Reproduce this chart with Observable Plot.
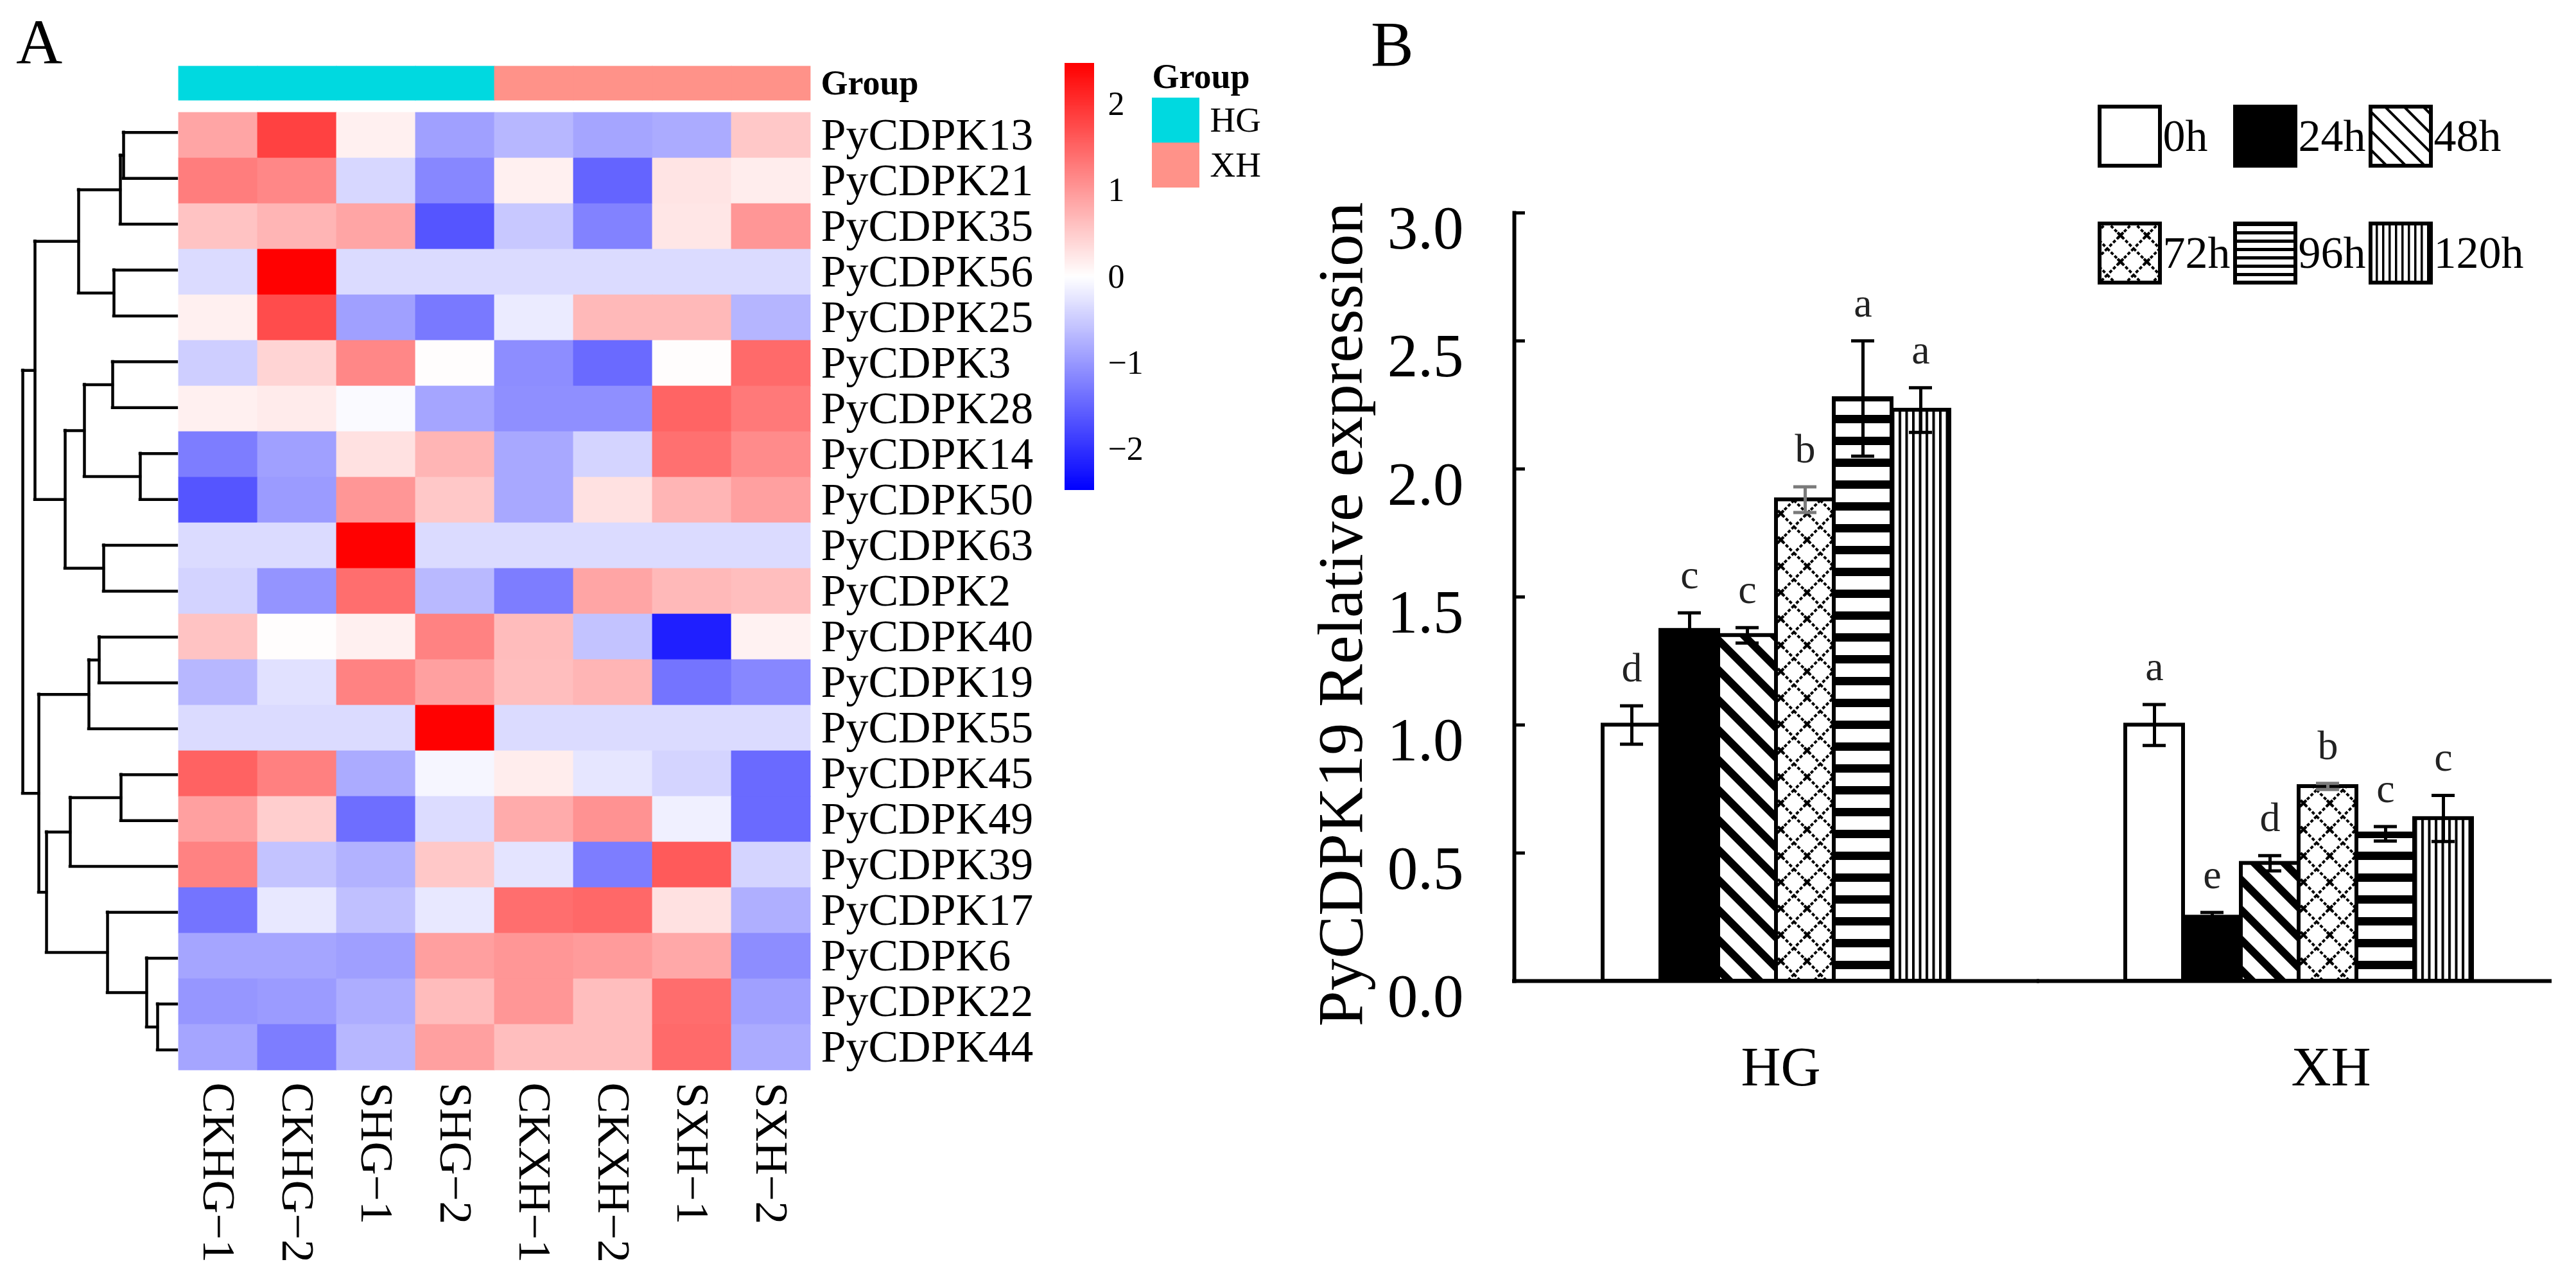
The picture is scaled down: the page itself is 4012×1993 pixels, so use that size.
<!DOCTYPE html>
<html><head><meta charset="utf-8">
<script src="https://cdn.jsdelivr.net/npm/d3@7"></script>
<script src="https://cdn.jsdelivr.net/npm/@observablehq/plot@0.6"></script>
<style>
body{margin:0;background:#fff;}
#root{position:relative;width:4012px;height:1993px;background:#fff;overflow:hidden;font-family:"Liberation Serif","Times New Roman",serif;color:#000;}
.plabel{position:absolute;font-size:100px;line-height:1;}
</style></head><body>
<svg width="0" height="0" style="position:absolute;left:0;top:0">
<defs>
 <pattern id="p48" patternUnits="userSpaceOnUse" width="33" height="33" patternTransform="rotate(-45)"><rect width="33" height="33" fill="#fff"/><rect width="12" height="33" fill="#000"/></pattern>
 <pattern id="p72" patternUnits="userSpaceOnUse" width="41" height="41"><rect width="41" height="41" fill="#fff"/><path d="M0,0L41,41M41,0L0,41" stroke="#000" stroke-width="4" stroke-dasharray="5 3"/><path d="M16,16L25,25M25,16L16,25" stroke="#000" stroke-width="4"/></pattern>
 <pattern id="p96" patternUnits="userSpaceOnUse" width="10" height="34"><rect width="10" height="34" fill="#fff"/><rect width="10" height="13" fill="#000"/></pattern>
 <pattern id="p120" patternUnits="userSpaceOnUse" width="10.5" height="10"><rect width="10.5" height="10" fill="#fff"/><rect width="4" height="10" fill="#000"/></pattern>
 <pattern id="l48" patternUnits="userSpaceOnUse" width="21" height="21" patternTransform="rotate(-45)"><rect width="21" height="21" fill="#fff"/><rect width="4" height="21" fill="#000"/></pattern>
 <pattern id="l72" patternUnits="userSpaceOnUse" width="41" height="41"><rect width="41" height="41" fill="#fff"/><path d="M0,0L41,41M41,0L0,41" stroke="#000" stroke-width="4" stroke-dasharray="5 3"/><path d="M16,16L25,25M25,16L16,25" stroke="#000" stroke-width="4"/></pattern>
 <pattern id="l96" patternUnits="userSpaceOnUse" width="10" height="13"><rect width="10" height="13" fill="#fff"/><rect width="10" height="5" fill="#000"/></pattern>
 <pattern id="l120" patternUnits="userSpaceOnUse" width="10" height="10"><rect width="10" height="10" fill="#fff"/><rect width="3.5" height="10" fill="#000"/></pattern>
</defs></svg>
<div id="root"></div>
<script>
const FONT = '"Liberation Serif","Times New Roman",serif';

// ---------- Panel A data ----------
const genes = ["PyCDPK13","PyCDPK21","PyCDPK35","PyCDPK56","PyCDPK25","PyCDPK3","PyCDPK28","PyCDPK14","PyCDPK50","PyCDPK63","PyCDPK2","PyCDPK40","PyCDPK19","PyCDPK55","PyCDPK45","PyCDPK49","PyCDPK39","PyCDPK17","PyCDPK6","PyCDPK22","PyCDPK44"];
const samples = ["CKHG−1","CKHG−2","SHG−1","SHG−2","CKXH−1","CKXH−2","SXH−1","SXH−2"];
const sampleGroup = ["HG","HG","HG","HG","XH","XH","XH","XH"];
const groupNames = ["HG","XH"];
const groupColors = ["#00D9E0","#FF9289"];
const expr = [
 [0.87, 1.84, 0.15, -0.92, -0.70, -0.87, -0.82, 0.53],
 [1.26, 1.16, -0.39, -1.16, 0.15, -1.50, 0.26, 0.17],
 [0.58, 0.72, 0.87, -1.65, -0.53, -1.21, 0.24, 1.02],
 [-0.35, 2.47, -0.35, -0.35, -0.35, -0.35, -0.35, -0.35],
 [0.15, 1.74, -0.92, -1.30, -0.19, 0.68, 0.68, -0.72],
 [-0.48, 0.42, 1.16, 0.02, -1.11, -1.45, 0.02, 1.45],
 [0.15, 0.19, -0.05, -0.87, -1.09, -1.09, 1.50, 1.30],
 [-1.26, -0.92, 0.29, 0.72, -0.84, -0.42, 1.39, 1.13],
 [-1.65, -0.97, 1.02, 0.53, -0.84, 0.29, 0.72, 0.92],
 [-0.35, -0.35, 2.47, -0.35, -0.35, -0.35, -0.35, -0.35],
 [-0.43, -1.04, 1.41, -0.68, -1.26, 0.87, 0.68, 0.63],
 [0.58, 0.02, 0.15, 1.21, 0.65, -0.58, -2.17, 0.13],
 [-0.70, -0.29, 1.21, 0.92, 0.63, 0.72, -1.35, -1.16],
 [-0.35, -0.35, -0.35, 2.47, -0.35, -0.35, -0.35, -0.35],
 [1.52, 1.23, -0.82, -0.09, 0.17, -0.24, -0.42, -1.45],
 [0.92, 0.48, -1.41, -0.34, 0.82, 1.06, -0.15, -1.45],
 [1.21, -0.58, -0.75, 0.53, -0.26, -1.26, 1.60, -0.42],
 [-1.35, -0.22, -0.61, -0.22, 1.41, 1.47, 0.29, -0.78],
 [-0.87, -0.87, -0.93, 0.93, 1.02, 0.97, 0.84, -1.11],
 [-1.02, -0.97, -0.80, 0.65, 1.02, 0.63, 1.42, -0.92],
 [-0.87, -1.26, -0.70, 0.92, 0.63, 0.63, 1.45, -0.82]
];
const colorLimit = 2.475;
const legendTicks = [-2, -1, 0, 1, 2];
// dendrogram merges: [left, right, height]; merge i creates node "n"+(i+1)
const dendroMerges = [
 ["PyCDPK13","PyCDPK21",0.83],
 ["n1","PyCDPK35",0.88],
 ["PyCDPK56","PyCDPK25",0.98],
 ["n2","n3",1.53],
 ["PyCDPK3","PyCDPK28",1.00],
 ["PyCDPK14","PyCDPK50",0.57],
 ["n5","n6",1.44],
 ["PyCDPK63","PyCDPK2",1.14],
 ["n7","n8",1.74],
 ["n4","n9",2.21],
 ["PyCDPK40","PyCDPK19",1.21],
 ["n11","PyCDPK55",1.37],
 ["PyCDPK45","PyCDPK49",0.87],
 ["n13","PyCDPK39",1.66],
 ["PyCDPK22","PyCDPK44",0.30],
 ["PyCDPK6","n15",0.47],
 ["PyCDPK17","n16",1.08],
 ["n14","n17",2.03],
 ["n12","n18",2.15],
 ["n10","n19",2.40]
];

// ---------- Panel B data ----------
const groups = ["HG","XH"];
const times = ["0h","24h","48h","72h","96h","120h"];
const meanHG = [1.00, 1.37, 1.35, 1.88, 2.275, 2.23];
const errHG  = [0.075, 0.068, 0.03, 0.05, 0.225, 0.087];
const letHG  = ["d","c","c","b","a","a"];
const meanXH = [1.00, 0.25, 0.46, 0.76, 0.575, 0.635];
const errXH  = [0.08, 0.018, 0.03, 0.012, 0.028, 0.09];
const letXH  = ["a","e","d","b","c","c"];
const yTicks = [0, 0.5, 1, 1.5, 2, 2.5, 3];
const yTitle = "PyCDPK19 Relative expression";
const barFills = ["#ffffff","#000000","url(#p48)","url(#p72)","url(#p96)","url(#p120)"];
const legendFills = ["#ffffff","#000000","url(#l48)","url(#l72)","url(#l96)","url(#l120)"];

// ---------- build ----------
const root = document.getElementById("root");
function place(el, left, top) {
  const d = document.createElement("div");
  d.style.cssText = `position:absolute;left:${left}px;top:${top}px;`;
  d.appendChild(el); root.appendChild(d);
}
const baseStyle = {fontFamily: FONT, background: "transparent", maxWidth: "none", color: "#000", overflow: "visible"};
const heatColor = {type: "linear", domain: [-colorLimit, 0, colorLimit], range: ["#0000ff", "#ffffff", "#ff0000"], interpolate: "rgb"};

// dendrogram segments
const pos = {};
genes.forEach((g, i) => pos[g] = {y: i, h: 0});
const hSeg = [], vSeg = [];
dendroMerges.forEach(([a, b, h], i) => {
  const A = pos[a], B = pos[b];
  hSeg.push({y: A.y, h1: A.h, h2: h}, {y: B.y, h1: B.h, h2: h});
  vSeg.push({h, y1: A.y, y2: B.y});
  pos["n" + (i + 1)] = {y: (A.y + B.y) / 2, h};
});
const maxH = d3.max(dendroMerges, d => d[2]);

place(Plot.plot({
  width: 300, height: 1993, marginLeft: 35, marginRight: 25, marginTop: 170, marginBottom: 323,
  style: baseStyle,
  x: {domain: [maxH, 0], axis: null},
  y: {domain: [genes.length - 0.5, -0.5], axis: null},
  marks: [
    Plot.ruleY(hSeg, {y: "y", x1: "h1", x2: "h2", stroke: "#000", strokeWidth: 4.5, strokeLinecap: "square"}),
    Plot.ruleX(vSeg, {x: "h", y1: "y1", y2: "y2", stroke: "#000", strokeWidth: 4.5, strokeLinecap: "square"})
  ]
}), 0, 0);

const cells = genes.flatMap((g, i) => samples.map((s, j) => ({gene: g, sample: s, value: expr[i][j]})));
place(Plot.plot({
  width: 1650, height: 1993, marginLeft: 275, marginRight: 386, marginTop: 170, marginBottom: 323,
  style: baseStyle,
  x: {domain: samples, padding: 0, label: null},
  y: {domain: genes, padding: 0, label: null},
  color: heatColor,
  marks: [
    Plot.cell(cells, {x: "sample", y: "gene", fill: "value", stroke: "value", strokeWidth: 0.8}),
    Plot.axisY({anchor: "right", tickSize: 0, tickPadding: 14, fontSize: 70, label: null}),
    Plot.axisX({anchor: "bottom", tickSize: 0, tickPadding: 15, tickRotate: 90, fontSize: 72, label: null})
  ]
}), 0, 0);

const annot = samples.map((s, j) => ({sample: s, group: sampleGroup[j]}));
place(Plot.plot({
  width: 1650, height: 200, marginLeft: 275, marginRight: 386, marginTop: 103, marginBottom: 44,
  style: baseStyle,
  x: {domain: samples, padding: 0, axis: null},
  y: {domain: ["Group"], padding: 0, label: null},
  color: {domain: groupNames, range: groupColors},
  marks: [
    Plot.cell(annot, {x: "sample", y: () => "Group", fill: "group", stroke: "group", strokeWidth: 0.8}),
    Plot.axisY({anchor: "right", tickSize: 0, tickPadding: 14, fontSize: 54, fontWeight: "bold", label: null})
  ]
}), 0, 0);

// color legend
const ramp = d3.range(-colorLimit, colorLimit, 0.02);
place(Plot.plot({
  width: 300, height: 800, marginLeft: 58, marginRight: 196, marginTop: 98, marginBottom: 37,
  style: baseStyle,
  x: {domain: [0, 1], axis: null},
  y: {domain: [-colorLimit, colorLimit], label: null},
  color: heatColor,
  marks: [
    Plot.rect(ramp, {x1: 0, x2: 1, y1: d => d, y2: d => Math.min(d + 0.03, colorLimit), fill: d => d + 0.01}),
    Plot.axisY({anchor: "right", ticks: legendTicks, tickSize: 0, tickPadding: 21, fontSize: 52, tickFormat: d3.format("d"), label: null})
  ]
}), 1600, 0);

// group legend
place(Plot.plot({
  width: 312, height: 400, marginLeft: 94, marginRight: 144, marginTop: 151, marginBottom: 108,
  style: baseStyle,
  x: {domain: [0, 1], axis: null},
  y: {domain: groupNames, padding: 0, label: null},
  color: {domain: groupNames, range: groupColors},
  marks: [
    Plot.barX(groupNames, {x1: 0, x2: 1, y: d => d, fill: d => d}),
    Plot.axisY({anchor: "right", tickSize: 0, tickPadding: 16, fontSize: 55, label: null}),
    Plot.text(["Group"], {frameAnchor: "top-left", dy: -15, lineAnchor: "bottom", textAnchor: "start", fontSize: 54, fontWeight: "bold"})
  ]
}), 1700, 0);

// ---------- Panel B ----------
const bars = groups.flatMap((g, gi) => times.map((t, i) => ({
  group: g, time: t,
  value: [meanHG, meanXH][gi][i],
  err: [errHG, errXH][gi][i],
  letter: [letHG, letXH][gi][i]
})));
const errBlack = bars.filter(d => d.time !== "72h");
const errGray = bars.filter(d => d.time === "72h");
function errMarks(data, color) {
  return [
    Plot.ruleX(data, {fx: "group", x: "time", y1: d => d.value - d.err, y2: d => d.value + d.err, stroke: color, strokeWidth: 5}),
    Plot.tickY(data, {fx: "group", x: "time", y: d => d.value + d.err, insetLeft: 27, insetRight: 27, stroke: color, strokeWidth: 5}),
    Plot.tickY(data, {fx: "group", x: "time", y: d => d.value - d.err, insetLeft: 27, insetRight: 27, stroke: color, strokeWidth: 5})
  ];
}
place(Plot.plot({
  width: 2012, height: 1993, marginLeft: 357, marginRight: 37, marginTop: 331, marginBottom: 466,
  style: baseStyle,
  fx: {domain: groups, paddingInner: 0.334, paddingOuter: 0.16, align: 0.527, label: null},
  x: {domain: times, padding: 0, axis: null},
  y: {domain: [0, 3], label: null},
  color: {domain: times, range: barFills},
  marks: [
    Plot.barY(bars, {fx: "group", x: "time", y: "value", fill: "time", stroke: "#000", strokeWidth: 6}),
    ...errMarks(errBlack, "#000"),
    ...errMarks(errGray, "#7a7a7a"),
    Plot.text(bars, {fx: "group", x: "time", y: d => d.value + d.err, text: "letter", dy: -38, lineAnchor: "bottom", fontSize: 64, fill: "#222"}),
    Plot.ruleY([0], {fx: () => "HG", insetLeft: -137, insetRight: -136, stroke: "#000", strokeWidth: 6, strokeLinecap: "square"}),
    Plot.ruleY([0], {fx: () => "XH", insetLeft: -137, insetRight: -123, stroke: "#000", strokeWidth: 6}),
    Plot.frame({anchor: "left", facetAnchor: "left", dx: -137, stroke: "#000", strokeWidth: 6, strokeLinecap: "square"}),
    Plot.ruleY(yTicks, {fx: () => "HG", y: d => d, insetLeft: -137, insetRight: 662, stroke: "#000", strokeWidth: 5}),
    Plot.axisY({ticks: yTicks, tickSize: 0, tickPadding: 79, dx: -137, dy: 25, fontSize: 95, tickFormat: d3.format(".1f"), label: null}),
    Plot.axisFx({ticks: ["HG"], anchor: "bottom", tickSize: 0, tickPadding: 101, fontSize: 86, dx: 7, label: null}),
    Plot.axisFx({ticks: ["XH"], anchor: "bottom", tickSize: 0, tickPadding: 101, fontSize: 86, dx: 50, label: null}),
    Plot.text([yTitle], {fx: () => "HG", y: () => 1.5, frameAnchor: "left", textAnchor: "middle", lineAnchor: "middle", rotate: -90, dx: -407, dy: 27, fontSize: 100})
  ]
}), 2000, 0);

// legend B
const legendItems = times.map((t, i) => ({time: t, col: i % 3, row: Math.floor(i / 3)}));
place(Plot.plot({
  width: 812, height: 400, marginLeft: 70, marginRight: 226, marginTop: 65, marginBottom: 60,
  style: baseStyle,
  x: {type: "band", domain: [0, 1, 2], paddingInner: 0.555, paddingOuter: 0, axis: null},
  y: {type: "band", domain: [0, 1], paddingInner: 0.497, paddingOuter: 0, axis: null},
  color: {domain: times, range: legendFills},
  marks: [
    Plot.cell(legendItems, {x: "col", y: "row", fill: "time", stroke: "#000", strokeWidth: 6}),
    Plot.text(legendItems, {x: "col", y: "row", text: "time", dx: 51, textAnchor: "start", fontSize: 70})
  ]
}), 3200, 100);

// panel labels
for (const [t, l, top] of [["A", 25, 16], ["B", 2135, 19]]) {
  const d = document.createElement("div");
  d.className = "plabel"; d.textContent = t;
  d.style.left = l + "px"; d.style.top = top + "px";
  root.appendChild(d);
}
</script>
</body></html>
